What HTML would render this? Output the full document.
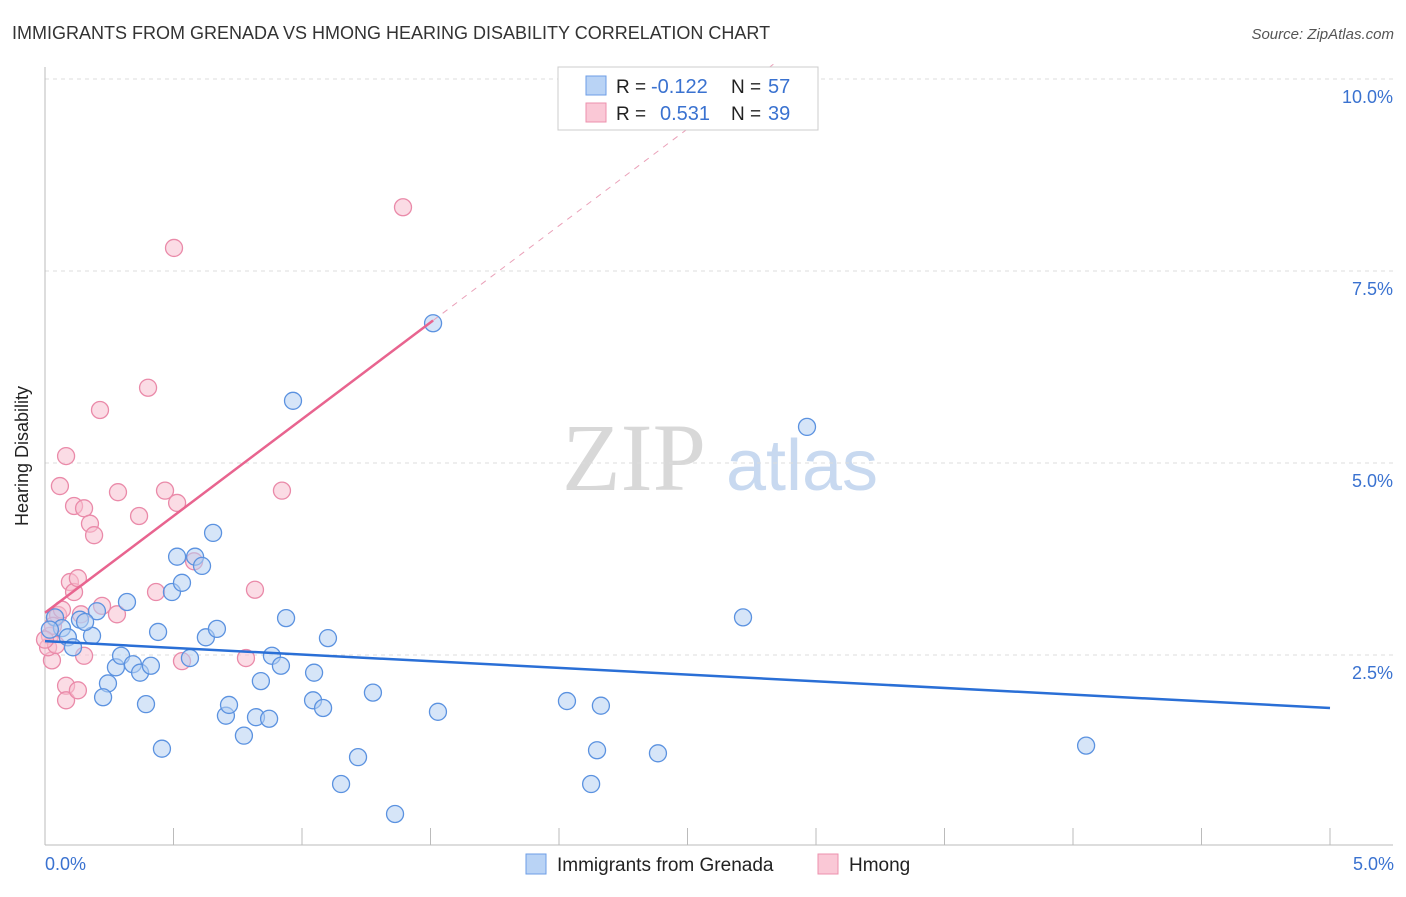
<!DOCTYPE html>
<html><head><meta charset="utf-8"><style>
body{margin:0;background:#fff;font-family:"Liberation Sans",sans-serif}
</style></head><body>
<svg id="c" width="1406" height="892" xmlns="http://www.w3.org/2000/svg" style="font-family:'Liberation Sans',sans-serif">
<text x="12" y="39" font-size="18" fill="#333">IMMIGRANTS FROM GRENADA VS HMONG HEARING DISABILITY CORRELATION CHART</text>
<text x="1394" y="39" font-size="15" fill="#555" text-anchor="end" font-style="italic">Source: ZipAtlas.com</text>
<text x="634" y="490" font-size="96" fill="#d8d8d8" text-anchor="middle" font-family="'Liberation Serif',serif">ZIP</text>
<text x="802" y="490" font-size="72" fill="#c8d9f0" text-anchor="middle">atlas</text>
<g id="grid"></g><g id="axes"></g><g id="pts"></g><g id="trend"></g>
<text x="28" y="456" font-size="18" fill="#222" transform="rotate(-90 28 456)" text-anchor="middle">Hearing Disability</text>
<text x="45" y="870" font-size="18" fill="#3a72d0">0.0%</text>
<text x="1394" y="870" font-size="18" fill="#3a72d0" text-anchor="end">5.0%</text>
<g>
<rect x="558" y="67" width="260" height="63" fill="#fff" stroke="#ccc"/>
<rect x="586" y="76" width="20" height="19" fill="#b9d3f5" stroke="#6d9ee6"/>
<rect x="586" y="103" width="20" height="19" fill="#fac8d6" stroke="#ec91ad"/>
<text x="616" y="93" font-size="19" fill="#222">R =</text>
<text x="651" y="93" font-size="20" fill="#3a72d0">-0.122</text>
<text x="731" y="93" font-size="19" fill="#222">N =</text>
<text x="768" y="93" font-size="20" fill="#3a72d0">57</text>
<text x="616" y="120" font-size="19" fill="#222">R =</text>
<text x="660" y="120" font-size="20" fill="#3a72d0">0.531</text>
<text x="731" y="120" font-size="19" fill="#222">N =</text>
<text x="768" y="120" font-size="20" fill="#3a72d0">39</text>
</g>
<g>
<rect x="526" y="854" width="20" height="20" fill="#b9d3f5" stroke="#6d9ee6"/>
<text x="557" y="871" font-size="19" fill="#222">Immigrants from Grenada</text>
<rect x="818" y="854" width="20" height="20" fill="#fac8d6" stroke="#ec91ad"/>
<text x="849" y="871" font-size="19" fill="#222">Hmong</text>
</g>
</svg>
<script>
const blueX=[0.039,0.066,0.089,0.109,0.136,0.183,0.202,0.245,0.226,0.276,0.296,0.319,0.342,0.370,0.412,0.393,0.440,0.455,0.494,0.514,0.533,0.564,0.584,0.611,0.626,0.654,0.669,0.704,0.716,0.774,0.821,0.840,0.872,0.883,0.918,0.938,0.965,1.047,1.043,1.082,1.101,1.152,1.218,1.276,1.362,1.510,1.529,2.031,2.125,2.148,2.163,2.385,2.716,2.965,4.051,0.019,0.156];
const blueY=[2.99,2.85,2.73,2.60,2.96,2.75,3.07,2.13,1.95,2.34,2.49,3.19,2.38,2.27,2.36,1.86,2.80,1.28,3.32,3.78,3.44,2.46,3.78,3.66,2.73,4.09,2.84,1.71,1.85,1.45,1.69,2.16,1.67,2.49,2.36,2.98,5.81,2.27,1.91,1.81,2.72,0.82,1.17,2.01,0.43,6.82,1.76,1.90,0.82,1.26,1.84,1.22,2.99,5.47,1.32,2.83,2.93];
const pinkX=[0.019,0.027,0.039,0.051,0.012,0.058,0.082,0.097,0.082,0.082,0.113,0.113,0.128,0.128,0.140,0.152,0.152,0.175,0.191,0.214,0.222,0.280,0.284,0.366,0.401,0.432,0.467,0.502,0.514,0.533,0.580,0.782,0.817,0.922,1.393,0.031,0.043,0.000,0.066];
const pinkY=[2.75,2.43,2.98,3.02,2.60,4.70,5.09,3.45,2.10,1.91,4.44,3.32,3.50,2.04,3.03,4.41,2.49,4.21,4.06,5.69,3.14,3.03,4.62,4.31,5.98,3.32,4.64,7.80,4.48,2.42,3.72,2.46,3.35,4.64,8.33,2.88,2.63,2.70,3.09];
const yTicks=[2.5,5.0,7.5,10.0];
const xTicks=[0,0.5,1,1.5,2,2.5,3,3.5,4,4.5,5];
const blueTrend=[2.68,1.81];
const pinkTrend=[3.05,2.52];
const X=v=>45+v*257, Y=v=>847-v*76.8;
const NS="http://www.w3.org/2000/svg";
function mk(tag,attrs,parent){const e=document.createElementNS(NS,tag);for(const k in attrs)e.setAttribute(k,attrs[k]);parent.appendChild(e);return e;}
const grid=document.getElementById('grid'),axes=document.getElementById('axes'),pts=document.getElementById('pts'),tr=document.getElementById('trend');
yTicks.forEach(t=>{
 const l=mk('line',{x1:45,x2:1393,y1:Y(t),y2:Y(t),stroke:'#ddd','stroke-dasharray':'4,4'},grid);
 
 
 const tx=mk('text',{x:1393,y:Y(t)+24,'font-size':18,fill:'#3a72d0','text-anchor':'end'},grid);
 tx.textContent=t.toFixed(1)+'%';
 
 
});
mk('line',{x1:45,x2:45,y1:67,y2:845,stroke:'#bbb'},axes);
mk('line',{x1:45,x2:1393,y1:845,y2:845,stroke:'#bbb'},axes);
xTicks.forEach(t=>{const l=mk('line',{x1:X(t),x2:X(t),y1:828,y2:845,stroke:'#bbb'},axes);
 
 });
function dots(xs,ys,fill,stroke,name){xs.forEach((x,i)=>{const c=mk('circle',{cx:X(x),cy:Y(ys[i]),r:8.5,fill:fill,'fill-opacity':0.55,stroke:stroke,'stroke-width':1.3},pts);
 
 });}
dots(pinkX,pinkY,'#f8bfd0','#ea8aa9','hmong-point');
dots(blueX,blueY,'#b5cff3','#5b92e0','grenada-point');
let l=mk('line',{x1:X(0),y1:Y(blueTrend[0]),x2:X(5),y2:Y(blueTrend[1]),stroke:'#2a6fd6','stroke-width':2.5},tr);


const pMax=1.51, pEnd=(10.2-pinkTrend[0])/pinkTrend[1];
l=mk('line',{x1:X(0),y1:Y(pinkTrend[0]),x2:X(pMax),y2:Y(pinkTrend[0]+pinkTrend[1]*pMax),stroke:'#e8648f','stroke-width':2.5},tr);


l=mk('line',{x1:X(pMax),y1:Y(pinkTrend[0]+pinkTrend[1]*pMax),x2:X(pEnd),y2:Y(10.2),stroke:'#eaa0b8','stroke-width':1,'stroke-dasharray':'6,6'},tr);


</script>
</body></html>
